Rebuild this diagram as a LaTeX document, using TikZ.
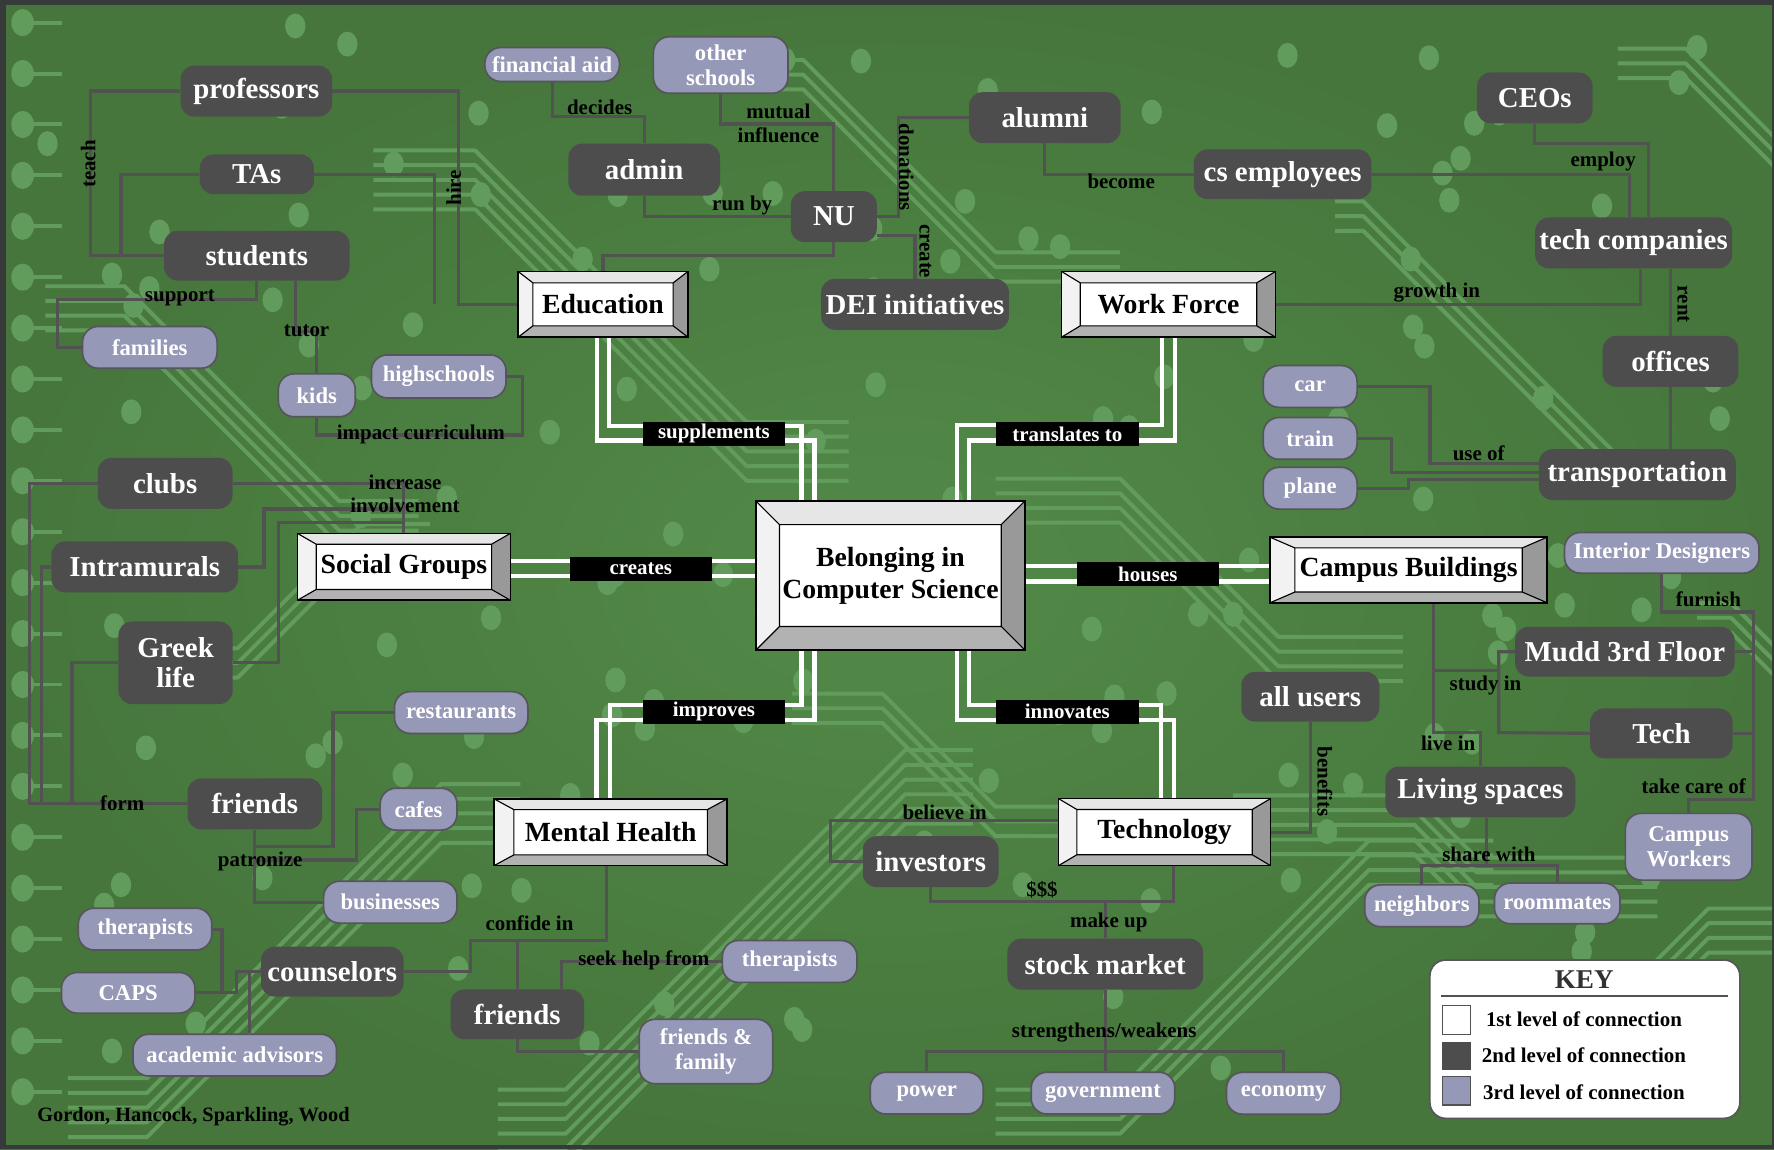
\documentclass[tikz,border=0pt]{standalone}
\usepackage{fontspec}
\setmainfont{Liberation Serif}
\usetikzlibrary{calc}
\definecolor{bggreen}{RGB}{75,127,66}
\definecolor{bginner}{RGB}{82,138,72}
\definecolor{bgouter}{RGB}{70,118,60}
\definecolor{tracec}{RGB}{98,156,92}
\definecolor{dkgray}{RGB}{77,77,77}
\definecolor{ltnode}{RGB}{149,152,182}
\definecolor{ltborder}{RGB}{85,85,90}
\definecolor{linec}{RGB}{82,82,82}
\definecolor{framec}{RGB}{55,58,58}
\definecolor{bevT}{RGB}{230,230,230}
\definecolor{bevL}{RGB}{242,242,242}
\definecolor{bevR}{RGB}{153,153,153}
\definecolor{bevB}{RGB}{178,178,178}
\definecolor{keytxt}{RGB}{50,50,50}
\newcommand\myfs[2]{\fontsize{#1}{#2}\selectfont}
\newcommand\myBevX{13}
\newcommand\myBevY{10}
\pgfdeclarelayer{bg}
\pgfdeclarelayer{links}
\pgfsetlayers{bg,links,main}
\tikzset{
  bev/.code 2 args={\def\myBevX{#1}\def\myBevY{#2}},
  dk/.style 2 args={fill=dkgray, text=white, rounded corners=12pt, inner sep=0pt, align=center,
     font=\myfs{25.5}{27}\bfseries, minimum width=#1, minimum height=#2},
  lt/.style 2 args={fill=ltnode, draw=ltborder, line width=1.5pt, text=white, rounded corners=14pt,
     inner sep=0pt, align=center, font=\myfs{20}{22}\bfseries, minimum width=#1, minimum height=#2},
  lvl1/.style n args={4}{draw=black, line width=1.3pt, fill=white, text=black, inner sep=0pt,
     align=center, font=\myfs{24.5}{28}\bfseries, minimum width=#1, minimum height=#2, bev={#3}{#4},
     path picture={
       \coordinate (pNW) at (path picture bounding box.north west);
       \coordinate (pNE) at (path picture bounding box.north east);
       \coordinate (pSW) at (path picture bounding box.south west);
       \coordinate (pSE) at (path picture bounding box.south east);
       \coordinate (iNW) at ([xshift=\myBevX pt, yshift=-\myBevY pt]pNW);
       \coordinate (iNE) at ([xshift=-\myBevX pt, yshift=-\myBevY pt]pNE);
       \coordinate (iSW) at ([xshift=\myBevX pt, yshift=\myBevY pt]pSW);
       \coordinate (iSE) at ([xshift=-\myBevX pt, yshift=\myBevY pt]pSE);
       \fill[bevT] (pNW) -- (pNE) -- (iNE) -- (iNW) -- cycle;
       \fill[bevL] (pNW) -- (iNW) -- (iSW) -- (pSW) -- cycle;
       \fill[bevR] (pNE) -- (pSE) -- (iSE) -- (iNE) -- cycle;
       \fill[bevB] (pSW) -- (iSW) -- (iSE) -- (pSE) -- cycle;
       \draw[black, line width=1pt] (iNW) rectangle (iSE) (pNW) -- (iNW) (pNE) -- (iNE)
            (pSW) -- (iSW) (pSE) -- (iSE);
     }},
  l1lbl/.style={fill=black, text=white, inner sep=0pt, minimum width=126pt, minimum height=21pt,
     font=\myfs{18.5}{20}\bfseries},
  lbl/.style={text=black, inner sep=0pt, align=center, font=\myfs{18.5}{20.6}\bfseries},
  keyt/.style={text=black, inner sep=0pt, font=\myfs{18.5}{20}\bfseries},
  conn/.style={draw=linec, line width=2.8pt},
  l1/.style={draw=white, line width=4pt},
  trace/.style={draw=tracec, line width=3.5pt, line join=round},
}
\begin{document}
\begin{tikzpicture}[x=1pt, y=-1pt]
\useasboundingbox (0,0) rectangle (1568,1016);
% ---------------- background ----------------
\begin{pgfonlayer}{bg}
\begin{scope}
\clip (0,0) rectangle (1568,1016);
\fill[bggreen] (0,0) rectangle (1568,1016);
\shade[inner color=bginner, outer color=bgouter] (0,0) rectangle (1568,1016);
\foreach \sx/\sy/\bh/\bd/\dir/\bn in {
 40/240/70/190/1/4, 330/120/90/240/1/5, 600/40/110/170/1/3, 60/940/70/260/-1/5,
 440/950/60/300/-1/6, 880/950/110/220/-1/4, 1180/165/25/230/1/3, 1090/690/160/55/1/5,
 1290/870/140/80/-1/4, 880/410/110/140/1/4, 150/560/60/110/-1/3, 1430/30/60/110/1/3,
 700/600/80/100/1/3, 1500/520/30/150/1/3}
{
  \foreach \bk in {1,...,\bn}{
    \draw[trace] (\sx,\sy+\bk*13) -- ++(\bh,0) -- ++(\bd,\dir*\bd) -- ++(\bh,0);
  }
}
\foreach \yy in {20,65,...,1000}{
  \fill[tracec] (20,\yy) ellipse (10 and 12);
  \draw[trace] (20,\yy) -- (55,\yy);
}
\pgfmathsetseed{4242}
\foreach \i in {1,...,150}{
  \pgfmathtruncatemacro\myrx{random(30,1550)}
  \pgfmathtruncatemacro\myry{random(20,990)}
  \fill[tracec] (\myrx,\myry) ellipse (9 and 11);
}
\end{scope}
\fill[framec] (0,0) rectangle (1568,4);
\fill[framec] (0,0) rectangle (5,1016);
\fill[framec] (0,1012) rectangle (1568,1016);
\fill[framec] (1566,0) rectangle (1568,1016);
\end{pgfonlayer}

% ---------------- level 1 ----------------
\node[lvl1={238}{132}{21}{21}] (core) at (787,508.7) {Belonging in\\Computer Science};
\node[lvl1={150}{58}{13}{10}] (edu) at (533,269) {Education};
\node[lvl1={189}{58}{16.5}{10}] (wf) at (1032.8,269) {Work Force};
\node[lvl1={188}{59}{16.5}{9.5}] (sg) at (357,501) {Social Groups};
\node[lvl1={245}{58}{22}{9.5}] (cb) at (1245,503.8) {Campus Buildings};
\node[lvl1={206}{59}{17.5}{9.5}] (mh) at (539.7,735.6) {Mental Health};
\node[lvl1={187}{59}{16}{9.5}] (tech1) at (1029.3,735.5) {Technology};

% ---------------- level 2 (dark) ----------------
\node[dk={134}{45}] (professors) at (226.6,80.5) {professors};
\node[dk={101}{35}] (TAs) at (227,154) {TAs};
\node[dk={164}{44}] (students) at (227,226) {students};
\node[dk={134}{46}] (admin) at (569.4,150) {admin};
\node[dk={76}{45}] (NU) at (737,191.5) {NU};
\node[dk={134}{45}] (alumni) at (923.5,104) {alumni};
\node[dk={166}{45}] (DEI) at (808.8,269) {DEI initiatives};
\node[dk={102}{45}] (CEOs) at (1356.6,86.5) {CEOs};
\node[dk={157}{44}] (csemp) at (1133.7,154) {cs employees};
\node[dk={174}{45}] (techco) at (1443.9,214.7) {tech companies};
\node[dk={120}{45}] (offices) at (1476.5,319.4) {offices};
\node[dk={174}{45}] (transp) at (1447.2,419.5) {transportation};
\node[dk={194}{44}] (mudd) at (1436.2,576) {Mudd 3rd Floor};
\node[dk={126}{44}] (techn) at (1468.5,648.2) {Tech};
\node[dk={122}{44}] (allusers) at (1158.1,615.8) {all users};
\node[dk={168}{45}] (living) at (1308.4,700) {Living spaces};
\node[dk={119}{45}] (clubs) at (146,427.2) {clubs};
\node[dk={165}{45}] (intra) at (128,501.1) {Intramurals};
\node[dk={101}{73}] (greek) at (155.2,585.8) {Greek\\life};
\node[dk={119}{45}] (friends1) at (225.3,710.5) {friends};
\node[dk={126}{44}] (couns) at (293.7,858.8) {counselors};
\node[dk={118}{44}] (friends2) at (457.2,896.5) {friends};
\node[dk={120}{45}] (investors) at (822.6,761.6) {investors};
\node[dk={173}{45}] (stock) at (976.9,852.2) {stock market};

% ---------------- level 3 (light) ----------------
\node[lt={119}{37}] (families) at (132.4,307) {families};
\node[lt={68}{38}] (kids) at (280,349.4) {kids};
\node[lt={119}{38}] (highschools) at (387.8,332.7) {highschools};
\node[lt={119}{30}] (finaid) at (488,57) {financial aid};
\node[lt={119}{50}] (others) at (637,57.5) {other\\schools};
\node[lt={83}{37}] (car) at (1158,341.6) {car};
\node[lt={83}{37}] (train) at (1158,387.5) {train};
\node[lt={83}{37}] (plane) at (1158,431.5) {plane};
\node[lt={172}{36}] (intdes) at (1468.8,488.6) {Interior Designers};
\node[lt={112}{59}] (campw) at (1492.6,748.4) {Campus\\Workers};
\node[lt={101}{37}] (neighbors) at (1256.7,800.6) {neighbors};
\node[lt={111}{36}] (roommates) at (1376.4,798.5) {roommates};
\node[lt={118}{37}] (rest) at (407.6,629.8) {restaurants};
\node[lt={68}{37}] (cafes) at (370,715.2) {cafes};
\node[lt={118}{37}] (busi) at (345,797.4) {businesses};
\node[lt={118}{37}] (ther1) at (128.2,821.2) {therapists};
\node[lt={118}{36}] (caps) at (113.3,877.5) {CAPS};
\node[lt={180}{37}] (acad) at (207.5,932.6) {academic advisors};
\node[lt={119}{37}] (ther2) at (698,849.8) {therapists};
\node[lt={118}{57}] (ff) at (624,929.4) {friends \&\\family};
\node[lt={100}{37}] (power) at (819.1,966.2) {power};
\node[lt={127}{37}] (govt) at (974.9,966.2) {government};
\node[lt={101}{37}] (economy) at (1134.6,966.3) {economy};

% ---------------- connectors ----------------
\begin{pgfonlayer}{links}
% level-1 double links
\draw[l1] ([xshift=-5.4]edu.south) |- (719.7,389.4) -- ([xshift=-67.3]core.north);
\draw[l1] ([xshift=5.4]edu.south) |- (708.4,376.5) -- ([xshift=-78.6]core.north);
\draw[l1] ([xshift=-5.6]wf.south) |- (846,375.6) -- ([xshift=59]core.north);
\draw[l1] ([xshift=5.6]wf.south) |- (856.4,389.4) -- ([xshift=69.4]core.north);
\draw[l1] ([xshift=-67.3]core.south) |- (527,636.3) -- ([xshift=-12.7]mh.north);
\draw[l1] ([xshift=-78.6]core.south) |- (539,623) -- ([xshift=-0.7]mh.north);
\draw[l1] ([xshift=59]core.south) |- (1037.7,636.3) -- ([xshift=8.4]tech1.north);
\draw[l1] ([xshift=69.4]core.south) |- (1026,623) -- ([xshift=-3.3]tech1.north);
\draw[l1] (sg.east |- 0,495.8) -- (core.west |- 0,495.8);
\draw[l1] (sg.east |- 0,509) -- (core.west |- 0,509);
\draw[l1] (core.east |- 0,500.2) -- (cb.west |- 0,500.2);
\draw[l1] (core.east |- 0,514) -- (cb.west |- 0,514);
% education cluster
\draw[conn] (professors.west) -| (80,226) -- (students.west);
\draw[conn] (TAs.west) -| (107,226);
\draw[conn] (professors.east) -| (405,269) -- (edu.west);
\draw[conn] (TAs.east) -| (384,269);
\draw[conn] (students.south) |- (51,265) |- (families.west);
\draw[conn] (students.south -| 261,0) |- (280,293) -- (kids.north);
\draw[conn] (kids.south) |- (462,384.5) |- (highschools.east);
% top cluster
\draw[conn] (finaid.south) |- (569.4,103) -- (admin.north);
\draw[conn] (others.south) |- (737,109.6) -- (NU.north);
\draw[conn] (admin.south) |- (NU.west);
\draw[conn] (NU.east) -| (794,104) -- (alumni.west);
\draw[conn] (NU.east |- 0,208) -| (DEI.north);
\draw[conn] (NU.south) |- (533,226) -- (edu.north);
\draw[conn] (alumni.south) |- (csemp.west);
% right cluster
\draw[conn] (CEOs.south) |- (1457,127) -- (techco.north -| 1457,0);
\draw[conn] (csemp.east) -| (techco.north -| 1440,0);
\draw[conn] (wf.east) -| (techco.south -| 1450,0);
\draw[conn] (techco.south -| offices.north) -- (offices.north);
\draw[conn] (offices.south) -- (offices.south |- transp.north);
\draw[conn] (car.east) -| (1264,410) -- (transp.west |- 0,410);
\draw[conn] (train.east) -| (1230,417.5) -- (transp.west |- 0,417.5);
\draw[conn] (plane.east) -| (1245,423.6) -- (transp.west |- 0,423.6);
% campus buildings cluster
\draw[conn] (intdes.south) |- (1550,541) -- (1550,706.5) -| (campw.north);
\draw[conn] (mudd.east) -- (mudd.east -| 1550,0);
\draw[conn] (techn.east) -- (techn.east -| 1550,0);
\draw[conn] (cb.south -| 1267,0) |- (1308.4,647.5) -- (living.north);
\draw[conn] (cb.south -| 1267,0) |- (1324.7,592.7);
\draw[conn] (mudd.west) -| (1324.7,647.5) -- (techn.west);
\draw[conn] (living.south -| 1314,0) -- (1314,765);
\draw[conn] (neighbors.north) |- (1376.4,765) -- (roommates.north);
\draw[conn] (allusers.south) |- (tech1.east);
% social cluster
\draw[conn] (clubs.west) -| (26,710.5) -- (friends1.west);
\draw[conn] (intra.west) -| (36.5,710.5);
\draw[conn] (greek.west) -| (63.6,710.5);
\draw[conn] (clubs.east) -| (sg.north);
\draw[conn] (intra.east) -| (233.4,449.9) -- (357,449.9);
\draw[conn] (greek.east) -| (246,461.7) -- (357,461.7);
\draw[conn] (friends1.south) |- (busi.west);
\draw[conn] (rest.west) -| (294.3,748.3) -- (friends1.south |- 0,748.3);
\draw[conn] (cafes.west) -| (315.3,760.1) -- (friends1.south |- 0,760.1);
% mental health cluster
\draw[conn] (ther1.east) -| (196.2,877.5) -- (caps.east);
\draw[conn] (caps.east) -- (209,877.5) |- (couns.west);
\draw[conn] (acad.north -| 220.6,0) -- (220.6,858.8);
\draw[conn] (couns.east) -| (416,831.4) -- (536,831.4) -- (mh.south -| 536,0);
\draw[conn] (friends2.north) -- (friends2.north |- 0,831.4);
\draw[conn] (ther2.west) -| (496.5,874.5);
\draw[conn] (friends2.south) |- (ff.west);
% technology cluster
\draw[conn] (tech1.west |- 0,725.3) -| (734,761.6) -- (investors.west);
\draw[conn] (investors.south) |- (1037,797) -- (tech1.south -| 1037,0);
\draw[conn] (stock.north) -- (stock.north |- 0,797);
\draw[conn] (stock.south) -- (stock.south |- govt.north);
\draw[conn] (power.north) |- (1134.6,929.5) -- (economy.north);
\end{pgfonlayer}

% ---------------- level-1 link labels ----------------
\node[l1lbl] (lsupp) at (631,383.5) {supplements};
\node[l1lbl] (ltrans) at (943.4,383.5) {translates to};
\node[l1lbl] (limpr) at (631,629) {improves};
\node[l1lbl] (linno) at (943.4,629) {innovates};
\node[l1lbl] (lcrea) at (566.4,502.6) {creates};
\node[l1lbl] (lhous) at (1014.5,507.3) {houses};

% ---------------- connector labels ----------------
\node[lbl, rotate=90] (lteach) at (78,145) {teach};
\node[lbl, rotate=90] (lhire) at (401,166) {hire};
\node[lbl] (lsupport) at (159,263) {support};
\node[lbl] (ltutor) at (271,292) {tutor};
\node[lbl] (limpact) at (372,384) {impact curriculum};
\node[lbl] (ldecides) at (530,95) {decides};
\node[lbl] (lmutual) at (688,109) {mutual\\influence};
\node[lbl] (lrunby) at (656,182) {run by};
\node[lbl, rotate=-90] (ldon) at (801,148) {donations};
\node[lbl, rotate=-90] (lcreate) at (818,222) {create};
\node[lbl] (lbecome) at (991,160) {become};
\node[lbl] (lemploy) at (1417,143) {employ};
\node[lbl] (lgrowth) at (1270,259) {growth in};
\node[lbl, rotate=-90] (lrent) at (1488,269) {rent};
\node[lbl] (luseof) at (1307,401) {use of};
\node[lbl] (lfurnish) at (1510,530) {furnish};
\node[lbl] (ltake) at (1497,695) {take care of};
\node[lbl] (lstudy) at (1313,606) {study in};
\node[lbl] (llive) at (1280,657) {live in};
\node[lbl] (lshare) at (1316,755) {share with};
\node[lbl, rotate=-90] (lbenef) at (1171,691) {benefits};
\node[lbl] (lform) at (108,710) {form};
\node[lbl] (lincr) at (358,436.5) {increase\\involvement};
\node[lbl] (lpatr) at (230,761) {patronize};
\node[lbl] (lconf) at (468,816) {confide in};
\node[lbl] (lseek) at (569,849) {seek help from};
\node[lbl] (lbel) at (835,718) {believe in};
\node[lbl] (ldollar) at (921,786) {\$\$\$};
\node[lbl] (lmake) at (980,815) {make up};
\node[lbl] (lstr) at (976,913) {strengthens/weakens};

% ---------------- key ----------------
\node[draw=ltborder, fill=white, rounded corners=14pt, line width=1.5pt, minimum width=274pt,
      minimum height=140pt] (keybox) at (1400.8,918.5) {};
\node[font=\myfs{24}{26}\bfseries, text=keytxt, inner sep=0pt] (keytitle) at (1400.3,865.6) {KEY};
\draw[linec, line width=1.2pt] ([xshift=11pt]keybox.west |- 0,880.3) -- ([xshift=-11pt]keybox.east |- 0,880.3);
\node[draw=linec, fill=white, line width=1pt, minimum width=25pt, minimum height=25pt, inner sep=0pt] (sw1) at (1287.4,901.5) {};
\node[fill=dkgray, minimum width=25pt, minimum height=25pt, inner sep=0pt] (sw2) at (1287.4,933.2) {};
\node[draw=linec, fill=ltnode, line width=1pt, minimum width=25pt, minimum height=25pt, inner sep=0pt] (sw3) at (1287.4,964.2) {};
\node[keyt] (k1) at (1400,901) {1st level of connection};
\node[keyt] (k2) at (1400,933) {2nd level of connection};
\node[keyt] (k3) at (1400,965.5) {3rd level of connection};

% ---------------- credits ----------------
\node[lbl, font=\myfs{18}{20}\bfseries] (credits) at (171,987) {Gordon, Hancock, Sparkling, Wood};
\end{tikzpicture}
\end{document}
